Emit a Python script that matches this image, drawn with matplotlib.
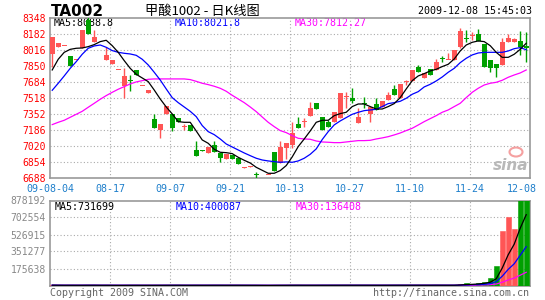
import matplotlib
matplotlib.use('Agg')
import matplotlib.pyplot as plt
import numpy as np
import pandas as pd
from matplotlib.patches import Ellipse

nan = np.nan

# ---------------- data ----------------
date_labels = ["09-08-04", "08-17", "09-07", "09-21", "10-13", "10-27", "11-10", "11-24", "12-08"]
price_ticks = [8348, 8182, 8016, 7850, 7684, 7518, 7352, 7186, 7020, 6854, 6688]
vol_ticks = [175638, 351277, 526915, 702554, 878192]

opens = [7975, 8054, 8068, 7954, 7919, 8044, 8331, 8106, nan, 7919,
         7878, 7812, 7646, 7710, 7812, 7646, 7577, 7300, 7190, 7352,
         7352, 7311, 7224, 7241, 6979, 6978, 6954, 7034, 6954, 6889,
         6934, 6896, 6802, 6802, 6726, nan, 6723, 6965, 6844, 7006,
         7034, 7252, 7276, 7338, 7466, 7324, 7276, 7269, 7311, 7535,
         7522, 7259, 7466, 7352, 7456, 7432, 7501, 7615, 7518, 7691,
         7701, 7847, 7726, 7819, 7812, 7935, 7923, 7916, 8054, 8143,
         8168, 8182, 8082, 7916, 7871, 7864, 8099, 8106, 8113, 8064]
highs = [8158, 8089, 8068, 7954, 7919, 8227, 8365, 8227, nan, 8054,
         7919, 7812, 7829, 7760, 7812, 7646, 7605, 7352, 7252, 7439,
         7352, 7311, 7252, 7241, 7075, 6979, 7017, 7075, 6954, 6944,
         6934, 6896, 6809, 6816, 6757, nan, 6723, 6965, 7075, 7058,
         7276, 7321, 7311, 7484, 7466, 7324, 7293, 7380, 7577, 7587,
         7622, 7414, 7528, 7425, 7525, 7490, 7587, 7656, 7667, 7708,
         7812, 7864, 7784, 7819, 7926, 7957, 7985, 8020, 8251, 8227,
         8203, 8234, 8082, 7916, 7871, 8141, 8182, 8147, 8217, 8210]
lows = [7847, 8054, 8068, 7857, 7919, 8044, 8182, 8106, nan, 7919,
        7878, 7812, 7518, 7594, 7760, 7646, 7577, 7214, 7103, 7352,
        7183, 7269, 7190, 7179, 6923, 6972, 6954, 6965, 6861, 6889,
        6892, 6841, 6795, 6802, 6695, nan, 6723, 6768, 6844, 6889,
        6999, 7214, 7224, 7338, 7407, 7186, 7224, 7269, 7311, 7421,
        7466, 7259, 7421, 7269, 7397, 7432, 7501, 7553, 7518, 7656,
        7701, 7795, 7726, 7760, 7812, 7898, 7923, 7916, 8037, 8106,
        8123, 8116, 7847, 7795, 7743, 7864, 8099, 8106, 7968, 7892]
closes = [8158, 8089, 8068, 7857, 7919, 8227, 8182, 8154, nan, 7968,
          7919, 7812, 7750, 7705, 7760, 7646, 7605, 7214, 7252, 7439,
          7214, 7269, 7224, 7179, 6923, 6975, 7017, 6965, 6903, 6944,
          6892, 6841, 6802, 6816, 6723, nan, 6723, 6768, 7017, 7051,
          7155, 7214, 7276, 7414, 7407, 7186, 7224, 7380, 7577, 7535,
          7490, 7328, 7463, 7425, 7397, 7490, 7553, 7553, 7667, 7691,
          7812, 7795, 7784, 7760, 7898, 7931, 7933, 8020, 8217, 8139,
          8168, 8116, 7847, 7836, 7829, 8106, 8147, 8134, 8054, 8037]

ma5 = [7812, 7923, 7995, 8026, 8037, 8040, 8054, 8075, 8106, 8120,
       8064, 7995, 7909, 7829, 7767, 7729, 7691, 7604, 7511, 7428,
       7356, 7276, 7269, 7269, 7179, 7086, 7051, 6989, 6958, 6954,
       6944, 6906, 6875, 6847, 6802, 6771, 6740, 6740, 6768, 6820,
       6910, 7017, 7096, 7179, 7269, 7290, 7290, 7338, 7359, 7373,
       7432, 7459, 7459, 7432, 7407, 7407, 7432, 7463, 7525, 7615,
       7701, 7750, 7774, 7802, 7819, 7847, 7871, 7926, 8009, 8071,
       8099, 8113, 8106, 8064, 7995, 7943, 7943, 7975, 8026, 8089]
ma10 = [7601, 7674, 7750, 7829, 7898, 7975, 8037, 8061, 8071, 8047,
        8013, 7995, 7985, 7978, 7964, 7923, 7864, 7788, 7708, 7615,
        7525, 7473, 7428, 7383, 7328, 7235, 7172, 7141, 7096, 7044,
        7013, 6982, 6951, 6923, 6896, 6878, 6868, 6861, 6854, 6858,
        6854, 6868, 6896, 6937, 6993, 7090, 7172, 7242, 7283, 7318,
        7352, 7373, 7390, 7397, 7404, 7432, 7463, 7473, 7487, 7518,
        7560, 7587, 7636, 7663, 7698, 7739, 7788, 7829, 7888, 7933,
        7968, 7988, 7995, 7995, 7995, 7995, 8009, 8033, 8044, 8022]
ma30 = [7245, 7269, 7290, 7321, 7352, 7383, 7425, 7466, 7508, 7546,
        7580, 7612, 7639, 7667, 7688, 7701, 7715, 7719, 7719, 7719,
        7719, 7719, 7719, 7712, 7694, 7674, 7660, 7643, 7622, 7591,
        7549, 7511, 7473, 7428, 7380, 7324, 7269, 7224, 7183, 7162,
        7131, 7103, 7096, 7093, 7075, 7065, 7062, 7058, 7058, 7065,
        7072, 7079, 7079, 7082, 7096, 7107, 7120, 7138, 7158, 7183,
        7207, 7241, 7276, 7307, 7338, 7373, 7397, 7432, 7466, 7525,
        7580, 7622, 7656, 7674, 7684, 7705, 7736, 7760, 7781, 7812]

volume = [3200, 2100, 1500, 2600, 1800, 2900, 3500, 2400, 0, 2200,
          1900, 1200, 2800, 2300, 2000, 1100, 1700, 3000, 2500, 2700,
          2600, 1900, 1400, 2100, 3100, 1300, 2400, 2600, 2200, 1900,
          2300, 2500, 1200, 1500, 1800, 0, 1100, 3400, 3000, 2300,
          2800, 2100, 1500, 2600, 2200, 2900, 2000, 2400, 3100, 2700,
          2300, 2500, 2000, 2600, 2400, 2200, 2800, 2900, 3200, 1700,
          3000, 2600, 2700, 2900, 3300, 1800, 2100, 3500, 15000, 25000,
          14000, 22000, 35000, 75000, 200000, 568000, 712000, 580000, 900000, 898000]

# ---------------- styling ----------------
RED = '#FF5555'
GREEN = '#00A000'
GRID = '#AAAAAA'
FRAME = '#999999'
MONO = 'DejaVu Sans Mono'
W, H = 545, 300

o = np.array(opens, float)
h = np.array(highs, float)
l = np.array(lows, float)
c = np.array(closes, float)
vol = np.array(volume, float)
n = len(o)
x = np.arange(n) + 0.37
valid = ~np.isnan(o)
cols = np.array([RED if (cc >= oo) else GREEN for oo, cc in zip(o, c)])

fig = plt.figure(figsize=(W / 100, H / 100), dpi=100)
fig.patch.set_facecolor('white')

ax = fig.add_axes([50 / W, 1 - 178.3 / H, 480 / W, 160 / H])
axv = fig.add_axes([50 / W, 1 - 285.5 / H, 480 / W, 85 / H])

for a in (ax, axv):
    a.set_xlim(0, 80)
    for s in a.spines.values():
        s.set_color(FRAME)
        s.set_linewidth(1.2)
    for gx in range(10, 80, 10):
        a.axvline(gx, color=GRID, lw=0.8, ls=(0, (1, 2)), zorder=0)

# ---- price panel ----
ax.set_ylim(price_ticks[-1], price_ticks[0])
for gy in price_ticks[1:-1]:
    ax.axhline(gy, color=GRID, lw=0.8, ls=(0, (1, 2)), zorder=0)

ax.vlines(x[valid], l[valid], h[valid], colors=cols[valid], lw=1.0, zorder=3)
body_bot = np.minimum(o, c)
body_h = np.maximum(np.abs(c - o), 10.4)
ax.bar(x[valid], body_h[valid], bottom=body_bot[valid] - np.where(np.abs(c - o)[valid] < 10.4, 5, 0),
       width=0.8, color=cols[valid], linewidth=0, zorder=4)

ax.plot(x, ma30, color='#FF00FF', lw=0.9, zorder=5)
ax.plot(x, ma10, color='#0000FF', lw=0.9, zorder=5)
ax.plot(x, ma5, color='black', lw=0.9, zorder=5)

ax.set_yticks(price_ticks)
ax.set_yticklabels([str(t) for t in price_ticks], color='#FF0000', fontfamily=MONO, fontsize=7)
ax.tick_params(axis='y', length=0, pad=3)
tick_pos = [0, 10, 20, 30, 40, 50, 60, 70, 78.7]
ax.set_xticks(tick_pos)
ax.set_xticklabels(date_labels, color='#1E7FCB', fontfamily=MONO, fontsize=7.2)
ax.tick_params(axis='x', length=0, pad=4)

ax.text(4 / 480, 0.97, 'MA5:%.1f' % 8088.8, transform=ax.transAxes, color='black',
        fontfamily=MONO, fontsize=7.2, va='center', ha='left', zorder=1)
ax.text(125 / 480, 0.97, 'MA10:%.1f' % 8021.8, transform=ax.transAxes, color='#0000FF',
        fontfamily=MONO, fontsize=7.2, va='center', ha='left', zorder=1)
ax.text(245 / 480, 0.97, 'MA30:%.2f' % 7812.27, transform=ax.transAxes, color='#FF00FF',
        fontfamily=MONO, fontsize=7.2, va='center', ha='left', zorder=1)

# ---- volume panel ----
axv.set_ylim(0, vol_ticks[-1])
for gy in vol_ticks[:-1]:
    axv.axhline(gy, color=GRID, lw=0.8, ls=(0, (1, 2)), zorder=0)
axv.bar(x[valid], vol[valid], width=0.8, color=cols[valid], edgecolor=cols[valid],
        linewidth=0.4, zorder=3)
vs = pd.Series(vol)
axv.plot(x, vs.rolling(30, min_periods=1).mean(), color='#FF00FF', lw=0.9, zorder=5)
axv.plot(x, vs.rolling(10, min_periods=1).mean(), color='#0000FF', lw=0.9, zorder=5)
axv.plot(x, vs.rolling(5, min_periods=1).mean(), color='black', lw=0.9, zorder=5)
axv.set_yticks(vol_ticks)
axv.set_yticklabels([str(t) for t in vol_ticks], color='#888888', fontfamily=MONO, fontsize=7)
axv.tick_params(axis='y', length=0, pad=3)
axv.set_xticks([])

axv.text(5 / 480, 0.924, 'MA5:731699', transform=axv.transAxes, color='black',
         fontfamily=MONO, fontsize=7.2, va='center', ha='left', zorder=1)
axv.text(126 / 480, 0.924, 'MA10:400087', transform=axv.transAxes, color='#0000FF',
         fontfamily=MONO, fontsize=7.2, va='center', ha='left', zorder=1)
axv.text(246 / 480, 0.924, 'MA30:136408', transform=axv.transAxes, color='#FF00FF',
         fontfamily=MONO, fontsize=7.2, va='center', ha='left', zorder=1)

# ---- header / footer ----
fig.text(51 / W, 1 - 12 / H, 'TA002', fontsize=11, fontweight='bold', family='DejaVu Sans',
         va='center', ha='left')
fig.text(202 / W, 1 - 11 / H, '甲酸1002 - 日K线图', family=['Noto Sans CJK SC', 'DejaVu Sans'],
         fontsize=9.5, ha='center', va='center')
fig.text(532 / W, 1 - 11.5 / H, '2009-12-08 15:45:03', family=MONO, fontsize=7.2,
         ha='right', va='center')
fig.text(50 / W, 1 - 293 / H, 'Copyright 2009 SINA.COM', family=MONO, fontsize=7.2,
         color='#666666', ha='left', va='center')
fig.text(529 / W, 1 - 293 / H, 'http://finance.sina.com.cn', family=MONO, fontsize=7.2,
         color='#666666', ha='right', va='center')

# sina watermark
fig.text(511 / W, 1 - 166 / H, 'sina', fontsize=11, fontweight='bold', style='italic',
         color='#B8B8B8', ha='center', va='center', family='DejaVu Sans')
fig.patches.append(Ellipse((516 / W, 1 - 152 / H), 13 / W, 9 / H, transform=fig.transFigure,
                           facecolor='none', edgecolor='#F5A0A0', lw=1.5))

fig.savefig('out.png', dpi=100)
